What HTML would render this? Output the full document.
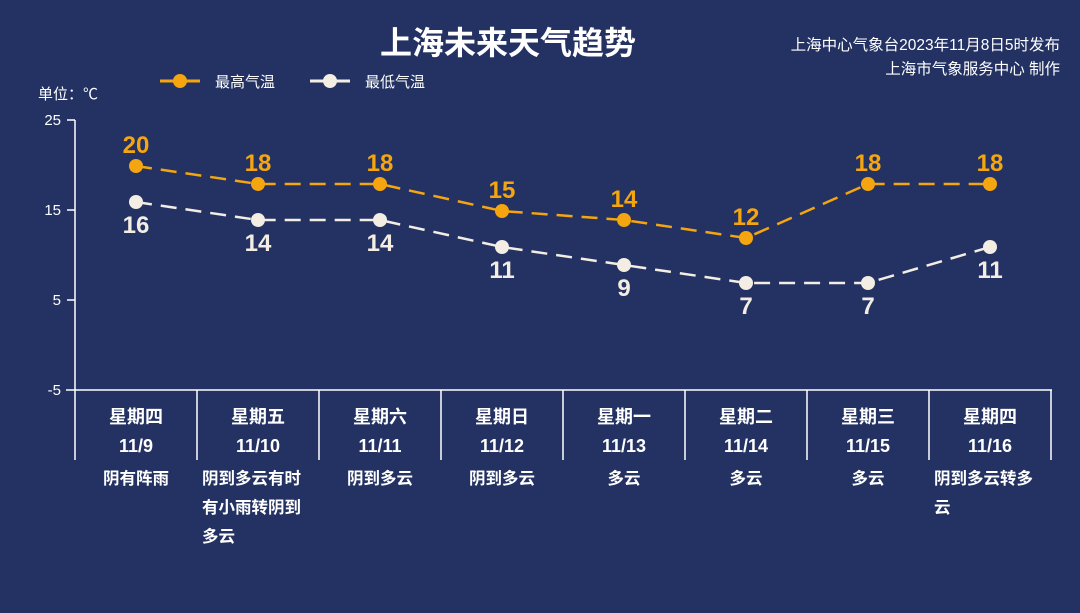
<!DOCTYPE html><html><head><meta charset="utf-8"><style>
body{margin:0;background:#233262;}
svg{display:block;font-family:"Liberation Sans","Noto Sans CJK SC",sans-serif;}
</style></head><body>
<svg width="1080" height="613" viewBox="0 0 1080 613">
<rect width="1080" height="613" fill="#233262"/>
<text x="508" y="54" text-anchor="middle" font-size="32" font-weight="bold" fill="#fff">上海未来天气趋势</text>
<text x="1060" y="50" text-anchor="end" font-size="15.5" fill="#fff">上海中心气象台2023年11月8日5时发布</text>
<text x="1060" y="74" text-anchor="end" font-size="15.5" fill="#fff">上海市气象服务中心 制作</text>
<line x1="160" y1="81" x2="200" y2="81" stroke="#f5a50f" stroke-width="3"/><circle cx="180" cy="81" r="7" fill="#f5a50f"/>
<text x="215" y="87" font-size="15" fill="#fff">最高气温</text>
<line x1="310" y1="81" x2="350" y2="81" stroke="#f3ede4" stroke-width="3"/><circle cx="330" cy="81" r="7" fill="#f3ede4"/>
<text x="365" y="87" font-size="15" fill="#fff">最低气温</text>
<text x="38" y="99" font-size="15" fill="#fff">单位：℃</text>
<g stroke="#fff" stroke-width="1.5" fill="none">
<line x1="75" y1="120" x2="75" y2="460"/>
<line x1="66" y1="390" x2="1052" y2="390"/>
<line x1="67" y1="120" x2="75" y2="120"/><line x1="67" y1="210" x2="75" y2="210"/><line x1="67" y1="300" x2="75" y2="300"/>
<line x1="197" y1="390" x2="197" y2="460"/><line x1="319" y1="390" x2="319" y2="460"/><line x1="441" y1="390" x2="441" y2="460"/><line x1="563" y1="390" x2="563" y2="460"/><line x1="685" y1="390" x2="685" y2="460"/><line x1="807" y1="390" x2="807" y2="460"/><line x1="929" y1="390" x2="929" y2="460"/><line x1="1051" y1="390" x2="1051" y2="460"/>
</g>
<g font-size="15" fill="#fff" text-anchor="end">
<text x="61" y="125">25</text><text x="61" y="215">15</text><text x="61" y="305">5</text><text x="61" y="395">-5</text>
</g>
<polyline points="136,166 258,184 380,184 502,211 624,220 746,238 868,184 990,184" fill="none" stroke="#f5a50f" stroke-width="2.5" stroke-dasharray="16,9"/>
<polyline points="136,202 258,220 380,220 502,247 624,265 746,283 868,283 990,247" fill="none" stroke="#f3ede4" stroke-width="2.5" stroke-dasharray="16,9"/>
<g fill="#f5a50f"><circle cx="136" cy="166" r="7"/><circle cx="258" cy="184" r="7"/><circle cx="380" cy="184" r="7"/><circle cx="502" cy="211" r="7"/><circle cx="624" cy="220" r="7"/><circle cx="746" cy="238" r="7"/><circle cx="868" cy="184" r="7"/><circle cx="990" cy="184" r="7"/></g>
<g fill="#f3ede4"><circle cx="136" cy="202" r="7"/><circle cx="258" cy="220" r="7"/><circle cx="380" cy="220" r="7"/><circle cx="502" cy="247" r="7"/><circle cx="624" cy="265" r="7"/><circle cx="746" cy="283" r="7"/><circle cx="868" cy="283" r="7"/><circle cx="990" cy="247" r="7"/></g>
<g font-size="24" font-weight="bold" fill="#f5a50f" text-anchor="middle">
<text x="136" y="153">20</text><text x="258" y="171">18</text><text x="380" y="171">18</text><text x="502" y="198">15</text><text x="624" y="207">14</text><text x="746" y="225">12</text><text x="868" y="171">18</text><text x="990" y="171">18</text>
</g>
<g font-size="24" font-weight="bold" fill="#f3ede4" text-anchor="middle">
<text x="136" y="233">16</text><text x="258" y="251">14</text><text x="380" y="251">14</text><text x="502" y="278">11</text><text x="624" y="296">9</text><text x="746" y="314">7</text><text x="868" y="314">7</text><text x="990" y="278">11</text>
</g>
<g font-size="18" font-weight="bold" fill="#fff" text-anchor="middle">
<text x="136" y="423">星期四</text><text x="258" y="423">星期五</text><text x="380" y="423">星期六</text><text x="502" y="423">星期日</text><text x="624" y="423">星期一</text><text x="746" y="423">星期二</text><text x="868" y="423">星期三</text><text x="990" y="423">星期四</text>
<text x="136" y="452">11/9</text><text x="258" y="452">11/10</text><text x="380" y="452">11/11</text><text x="502" y="452">11/12</text><text x="624" y="452">11/13</text><text x="746" y="452">11/14</text><text x="868" y="452">11/15</text><text x="990" y="452">11/16</text>
</g>
<g font-size="16.5" font-weight="bold" fill="#fff">
<text x="136" y="484" text-anchor="middle">阴有阵雨</text>
<text x="202" y="484">阴到多云有时</text><text x="202" y="513">有小雨转阴到</text><text x="202" y="542">多云</text>
<text x="380" y="484" text-anchor="middle">阴到多云</text>
<text x="502" y="484" text-anchor="middle">阴到多云</text>
<text x="624" y="484" text-anchor="middle">多云</text>
<text x="746" y="484" text-anchor="middle">多云</text>
<text x="868" y="484" text-anchor="middle">多云</text>
<text x="934" y="484">阴到多云转多</text><text x="934" y="513">云</text>
</g>
</svg></body></html>
